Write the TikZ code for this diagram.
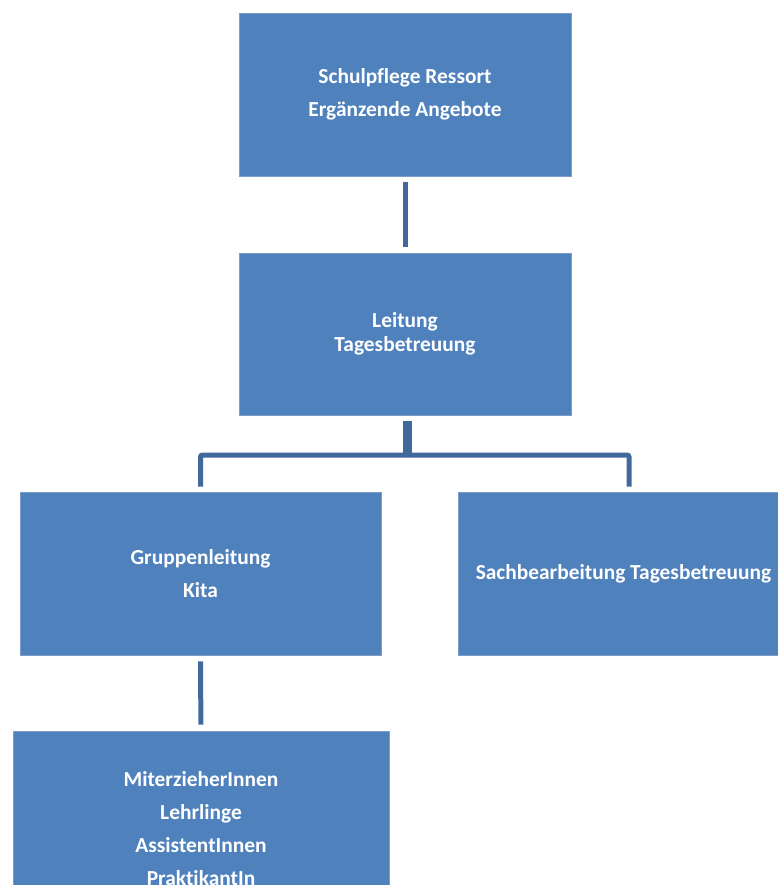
\documentclass[tikz,border=0pt]{standalone}
\usepackage{fontspec}
\setmainfont{Carlito}[Ligatures={NoCommon}]
\definecolor{boxblue}{HTML}{4F81BD}
\definecolor{boxedge}{HTML}{7A9CC8}
\definecolor{linkblue}{HTML}{41699B}
\tikzset{
  orgbox/.style={draw=boxedge, line width=0.8pt, fill=boxblue, text=white, align=center,
    inner sep=0pt, font=\bfseries\fontsize{21.4}{33}\selectfont},
  conn/.style={draw=linkblue, line width=5pt}
}
\begin{document}
\begin{tikzpicture}[x=1pt,y=-1pt]
      \useasboundingbox (0,0) rectangle (778,885);
      \node[orgbox, minimum width=332, minimum height=163] (ressort) at (405,94.5) {Schulpflege Ressort\\Ergänzende Angebote};
      \node[orgbox, minimum width=332, minimum height=162, font=\bfseries\fontsize{21.4}{24}\selectfont] (leitung) at (405,334) {Leitung\\Tagesbetreuung};
      \node[orgbox, minimum width=361, minimum height=163] (gruppe) at (200.5,573.5) {Gruppenleitung\\Kita};
      \node[orgbox, minimum width=331, minimum height=163] (sachb) at (623.5,573.5) {Sachbearbeitung Tagesbetreuung};
      \node[orgbox, minimum width=376, minimum height=195] (team) at (201,828.5) {MiterzieherInnen\\Lehrlinge\\AssistentInnen\\PraktikantIn};
      \draw[conn, shorten <=6pt, shorten >=6pt] (ressort) -- (leitung);
      \draw[conn, shorten <=6pt, shorten >=6pt] (gruppe) -- (team);
      \coordinate (split) at (407.5,455);
      \draw[conn, line width=9.5pt] ([xshift=2.5pt,yshift=-6pt]leitung.south) -- (split);
      \draw[conn, rounded corners=2pt] ([yshift=5pt]gruppe.north) |- (split) -| ([xshift=5.5pt,yshift=5pt]sachb.north);
    \end{tikzpicture}
\end{document}
